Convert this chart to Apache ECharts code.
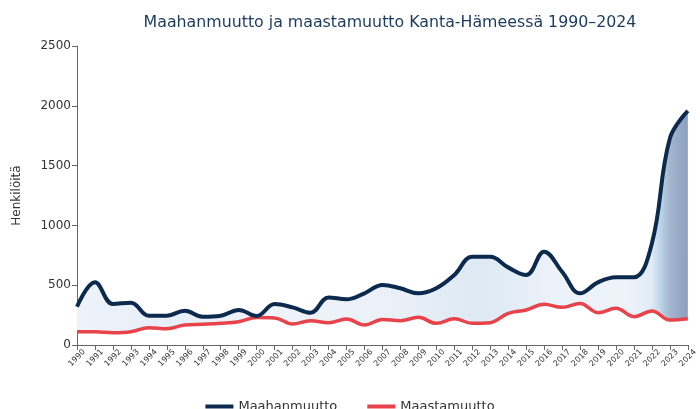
<!DOCTYPE html>
<html>
<head>
<meta charset="utf-8">
<script src="https://cdn.jsdelivr.net/npm/echarts@6/dist/echarts.min.js"></script>
<style>
  html, body { margin: 0; padding: 0; background: #fff; }
  #chart { width: 700px; height: 409px; }
</style>
</head>
<body>
<div id="chart"></div>
<script>
// vuodet
const years = [];
for (let y = 1990; y <= 2024; y++) years.push(String(y));

// Maahanmuutto (henkilöä)
const immigration = [
  320, 525, 343, 354, 245, 245, 287, 237, 245, 293,
  242, 343, 315, 270, 398, 382, 432, 502, 474, 432,
  474, 585, 738, 738, 649, 585, 780, 613, 432, 524,
  566, 566, 850, 1728, 1957
];

// Maastamuutto (henkilöä)
const emigration = [
  111, 111, 103, 111, 145, 136, 167, 173, 181, 195,
  229, 226, 175, 203, 187, 217, 167, 214, 203, 231,
  181, 220, 181, 187, 265, 293, 340, 315, 348, 270,
  307, 237, 284, 209, 220
];

const yTicks = [0, 500, 1000, 1500, 2000, 2500];

// erotus täyttöä varten
const gap = immigration.map((v, i) => v - emigration[i]);

const chart = echarts.init(document.getElementById('chart'));

const bandFill = new echarts.graphic.LinearGradient(0, 0, 1, 0, [
  { offset: 0, color: '#eef3fa' },
  { offset: 0.15, color: '#e6eef8' },
  { offset: 0.3, color: '#eff4fa' },
  { offset: 0.5, color: '#ebf1f8' },
  { offset: 0.66, color: '#dde9f3' },
  { offset: 0.78, color: '#ecf2f9' },
  { offset: 0.9, color: '#eef3fa' },
  { offset: 0.94, color: '#e2ecf6' },
  { offset: 0.955, color: '#bcd5e8' },
  { offset: 0.97, color: '#a4b7cf' },
  { offset: 1, color: '#8b9ebc' }
]);

const option = {
  animation: false,
  title: {
    text: 'Maahanmuutto ja maastamuutto Kanta-Hämeessä 1990–2024',
    left: 385,
    textAlign: 'center',
    top: 10,
    textStyle: { color: '#1b3a5e', fontSize: 15.8, fontWeight: 'normal', fontFamily: 'DejaVu Sans' }
  },
  legend: {
    bottom: -9,
    left: 'center',
    itemWidth: 28,
    itemHeight: 4,
    itemGap: 30,
    icon: 'rect',
    data: ['Maahanmuutto', 'Maastamuutto'],
    textStyle: { color: '#333', fontSize: 13, fontFamily: 'DejaVu Sans' }
  },
  grid: { left: 77, right: 7, top: 46, bottom: 64 },
  xAxis: {
    type: 'category',
    data: years,
    boundaryGap: false,
    axisLine: { lineStyle: { color: '#666', width: 1 } },
    axisTick: { alignWithLabel: true, interval: 0, lineStyle: { color: '#666' } },
    axisLabel: {
      interval: 0, rotate: 45, fontSize: 8, color: '#333', fontFamily: 'DejaVu Sans',
      margin: 13, align: 'center', verticalAlign: 'middle'
    }
  },
  yAxis: {
    type: 'value',
    min: yTicks[0],
    max: yTicks[yTicks.length - 1],
    interval: 500,
    name: 'Henkilöitä',
    nameLocation: 'middle',
    nameGap: 54,
    nameTextStyle: { color: '#333', fontSize: 12, fontFamily: 'DejaVu Sans' },
    axisLine: { show: true, lineStyle: { color: '#666' } },
    axisTick: { show: true, lineStyle: { color: '#666' } },
    splitLine: { show: false },
    axisLabel: {
      color: '#333', fontSize: 12, fontFamily: 'DejaVu Sans', margin: 6,
      formatter: v => String(v)
    }
  },
  series: [
    {
      name: 'pohja',
      type: 'line',
      stack: 'band',
      data: emigration,
      smooth: 0.4,
      symbol: 'none',
      lineStyle: { opacity: 0 },
      silent: true
    },
    {
      name: 'ero',
      type: 'line',
      stack: 'band',
      data: gap,
      smooth: 0.4,
      symbol: 'none',
      lineStyle: { opacity: 0 },
      areaStyle: { color: bandFill, opacity: 1 },
      silent: true
    },
    {
      name: 'Maastamuutto',
      type: 'line',
      data: emigration,
      smooth: 0.4,
      symbol: 'none',
      z: 3,
      itemStyle: { color: '#e8424a' },
      lineStyle: { color: '#e8424a', width: 3.5 }
    },
    {
      name: 'Maahanmuutto',
      type: 'line',
      data: immigration,
      smooth: 0.4,
      symbol: 'none',
      z: 4,
      itemStyle: { color: '#0c2a4e' },
      lineStyle: { color: '#0c2a4e', width: 4 }
    }
  ]
};

chart.setOption(option);
</script>
</body>
</html>
